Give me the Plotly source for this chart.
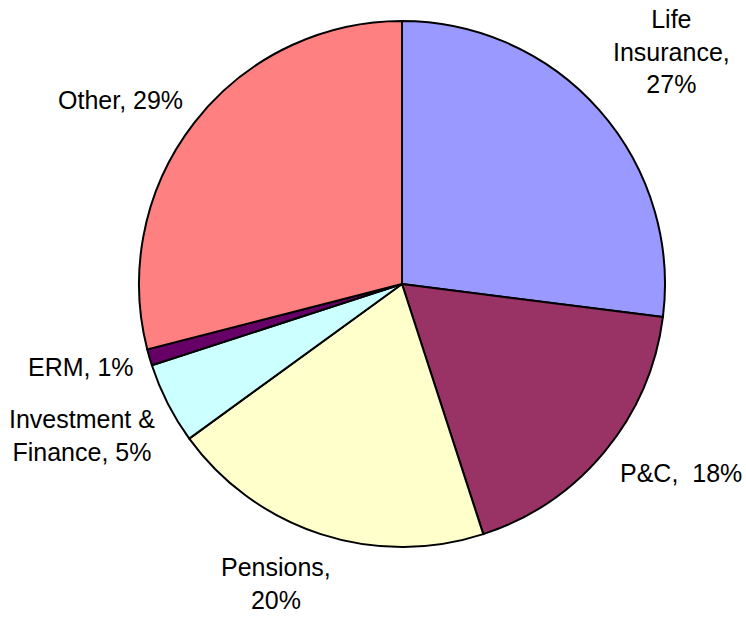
import math
import plotly.graph_objects as go

# ---- data ----
categories = ["Life<br>Insurance,", "P&C,", "Pensions,", "Investment &<br>Finance,", "ERM,", "Other,"]
names = ["Life Insurance", "P&C", "Pensions", "Investment & Finance", "ERM", "Other"]
values = [27, 18, 20, 5, 1, 29]
label_sep = ["<br>", "  ", "<br>", " ", " ", " "]

# ---- style ----
W, H = 746, 617
colors = ["#9999FF", "#993366", "#FFFFCC", "#CCFFFF", "#660066", "#FF8080"]
CX, CY, R = 402, 284, 263          # pixel centre / radius of the pie
LABEL_R = 278                       # radius at which the nearest label corner sits
nudges = [(0, 0), (2, -4), (17, 3), (3, -7), (1, -11), (3, 2)]   # px fine-tune per label
FONT = dict(family="Liberation Sans, Arial, sans-serif", size=25, color="#000000")

fig = go.Figure(go.Pie(
    labels=names,
    values=values,
    sort=False,
    direction="clockwise",
    rotation=0,
    marker=dict(colors=colors, line=dict(color="#000000", width=2)),
    textinfo="none",
    hoverinfo="label+percent",
    showlegend=False,
    domain=dict(x=[(CX - R) / W, (CX + R) / W],
                y=[(H - CY - R) / H, (H - CY + R) / H]),
))

total = sum(values)
cum = 0
annotations = []
for i, v in enumerate(values):
    mid = (cum + v / 2) / total * 2 * math.pi
    cum += v
    s, c = math.sin(mid), math.cos(mid)
    px = CX + LABEL_R * s + nudges[i][0]
    py = CY - LABEL_R * c + nudges[i][1]
    if s > 0.25:
        xanchor = "left"
    elif s < -0.25:
        xanchor = "right"
    else:
        xanchor = "center"
    yanchor = "bottom" if c > 0 else "top"
    pct = round(v / total * 100)
    text = f"{categories[i]}{label_sep[i]}{pct}%"
    annotations.append(dict(
        x=px / W, y=1 - py / H, xref="paper", yref="paper",
        text=text, showarrow=False, xanchor=xanchor, yanchor=yanchor,
        align="center", font=FONT,
    ))

fig.update_layout(
    width=W, height=H,
    margin=dict(l=0, r=0, t=0, b=0),
    paper_bgcolor="#FFFFFF",
    plot_bgcolor="#FFFFFF",
    annotations=annotations,
    font=FONT,
)

fig.write_html("out.html")
